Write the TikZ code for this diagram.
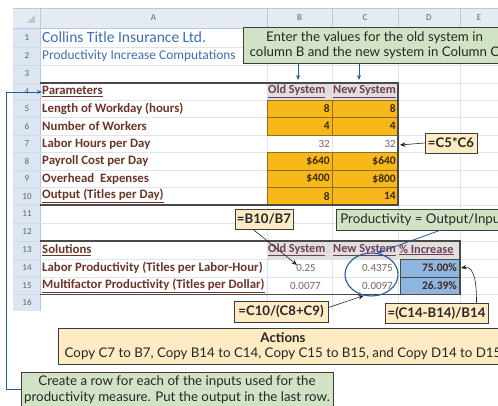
\documentclass[tikz,border=0pt]{standalone}
\usepackage{fontspec}
\setmainfont{Lato}
\newfontfamily\xlfont{Carlito}
\usetikzlibrary{arrows.meta,calc,shapes.geometric}
\definecolor{callgreen}{HTML}{D2E3C5}
\definecolor{callyellow}{HTML}{FDEBC3}
\definecolor{boxedge}{HTML}{3C3C3C}
\definecolor{arrowblue}{HTML}{1D5E9E}
\definecolor{gridc}{HTML}{DDE4ED}
\definecolor{hdrfill}{HTML}{E4EBF4}
\definecolor{rowhdr}{HTML}{DCE6F2}
\definecolor{hdredge}{HTML}{B9C8DB}
\definecolor{orangefill}{HTML}{F8B819}
\definecolor{orangeedge}{HTML}{8C6E28}
\definecolor{bluecell}{HTML}{8FB5E1}
\definecolor{labeltext}{HTML}{6A3528}
\definecolor{titleblue}{HTML}{3D6DB5}
\definecolor{thickline}{HTML}{4A4A4A}
\definecolor{valtext}{HTML}{3A2A18}
\definecolor{softval}{HTML}{7A625A}
\definecolor{headcell}{HTML}{E2DEDC}
\definecolor{headtext}{HTML}{6B3F5E}
\tikzset{
  callg/.style={draw=boxedge, fill=callgreen, line width=0.7pt, font=\fontsize{13.3}{15.5}\selectfont, align=center, inner sep=2pt, text=black!85},
  cally/.style={draw=boxedge, fill=callyellow, line width=0.7pt, font=\fontsize{13.2}{15}\selectfont\bfseries, inner sep=2pt, text=black!85},
  barrow/.style={draw=arrowblue, line width=0.8pt, -{Stealth[length=5pt,width=4pt]}},
  karrow/.style={draw=black!85, line width=0.6pt, -{Stealth[length=5.5pt,width=4.5pt]}},
  lbl/.style={anchor=west, font=\xlfont\fontsize{12.8}{14}\selectfont\bfseries, text=labeltext, inner sep=0pt},
  val/.style={anchor=east, font=\xlfont\fontsize{11.5}{12}\selectfont\bfseries, text=valtext, inner sep=0pt},
  softv/.style={anchor=east, font=\xlfont\fontsize{11}{12}\selectfont, text=softval, inner sep=0pt},
  colhdr/.style={font=\xlfont\fontsize{9}{10}\selectfont, text=gray!75!black, inner sep=0pt},
  rownum/.style={font=\xlfont\fontsize{9}{10}\selectfont, text=gray!75!black, inner sep=0pt},
  hcell/.style={font=\xlfont\fontsize{12.3}{13}\selectfont\bfseries, text=headtext, inner sep=0pt},
  ocell/.style={fill=orangefill, draw=orangeedge, line width=0.7pt},
  bcell/.style={fill=bluecell, draw=thickline, line width=0.7pt},
  thick line/.style={draw=thickline, line width=1.6pt}
}
\begin{document}
\begin{tikzpicture}[x=1pt,y=-1pt]
\useasboundingbox (0,0) rectangle (498,406);
\clip (0,0) rectangle (498,406);
% spreadsheet base
\fill[hdrfill] (13,8) rectangle (498,28);
\fill[rowhdr] (13,28) rectangle (40,311);
\draw[hdredge] (13,8) -- (498,8);
\draw[hdredge] (13,28) -- (498,28);
\draw[hdredge] (40,8) -- (40,311);
\fill[gray!45] (35,15) -- (35,23) -- (27,23) -- cycle;
\foreach \y in {47,65,83,100,117.5,135,152.5,170,187.5,205,223,241,259,277,294.5}{
  \draw[gridc] (40,\y) -- (498,\y);
  \draw[hdredge!70] (13,\y) -- (40,\y);
}
\foreach \x in {267,332,398,460}{
  \draw[gridc] (\x,28) -- (\x,311);
  \draw[hdredge] (\x,8) -- (\x,28);
}
% column letters
\node[colhdr] (ca) at (153.5,18) {A};
\node[colhdr] (cb) at (299.5,18) {B};
\node[colhdr] (cc) at (365,18) {C};
\node[colhdr] (cd) at (429,18) {D};
\node[colhdr] (ce) at (479,18) {E};
% row numbers
\foreach \n/\y in {1/37.5,2/56,3/74,4/91.5,5/108.75,6/126.25,7/143.75,8/161.25,9/178.75,10/196.25,11/214,12/232,13/250,14/268,15/285.75,16/302.75}{
  \node[rownum] (rn\n) at (27,\y) {\n};
}
% header cells
\fill[headcell] (267,83) rectangle (398,100);
\fill[headcell] (267,241) rectangle (460,259);
% orange input cells
\foreach \ya/\yb in {100/117.5,117.5/135,152.5/170,170/187.5,187.5/205}{
  \draw[ocell] (267,\ya) rectangle (332,\yb);
  \draw[ocell] (332,\ya) rectangle (398,\yb);
}
% blue result cells
\draw[bcell] (400,259) rectangle (460,277);
\draw[bcell] (400,277) rectangle (460,294.5);
% column A texts
\node[anchor=west, inner sep=0pt, font=\xlfont\fontsize{15.5}{17}\selectfont, text=titleblue] (t1) at (42,37.5) {Collins Title Insurance Ltd.};
\node[anchor=west, inner sep=0pt, font=\xlfont\fontsize{13.4}{15}\selectfont, text=titleblue] (t2) at (42,56) {Productivity Increase Computations};
\node[lbl] (a4) at (42,91.5) {\underline{Parameters}};
\node[lbl] (a5) at (42,108.75) {Length of Workday (hours)};
\node[lbl] (a6) at (42,126.25) {Number of Workers};
\node[lbl] (a7) at (42,143.75) {Labor Hours per Day};
\node[lbl] (a8) at (42,161.25) {Payroll Cost per Day};
\node[lbl] (a9) at (42,178.75) {Overhead\ \ Expenses};
\node[lbl] (a10) at (42,196.25) {\underline{Output (Titles per Day)}};
\node[lbl] (a13) at (42,250) {\underline{Solutions}};
\node[lbl] (a14) at (42,268) {Labor Productivity (Titles per Labor-Hour)};
\node[lbl] (a15) at (42,285.75) {\underline{Multifactor Productivity (Titles per Dollar)}};
% column headers inside sheet
\begin{scope}
\clip (267,83) rectangle (332,100);
\node[hcell, anchor=west] (b4) at (268,91.5) {\underline{Old System}};
\end{scope}
\begin{scope}
\clip (332,83) rectangle (397,100);
\node[hcell, anchor=west] (c4) at (333,91.5) {\underline{New System}};
\end{scope}
\begin{scope}
\clip (267,241) rectangle (332,259);
\node[hcell, anchor=west] (b13) at (268,250) {\underline{Old System}};
\end{scope}
\begin{scope}
\clip (332,241) rectangle (398,259);
\node[hcell, anchor=west] (c13) at (333,250) {\underline{New System}};
\end{scope}
\begin{scope}
\clip (398,241) rectangle (460,259);
\node[hcell, anchor=west] (d13) at (399,250) {\underline{\% Increase}};
\end{scope}
% thick section borders
\draw[thick line] (40,83) -- (398,83) -- (398,205) -- (40,205);
\draw[thick line] (40,241) -- (460,241) -- (460,294.5) -- (40,294.5);
% values
\node[val] (b5) at (330,108.75) {8};
\node[val] (c5) at (396,108.75) {8};
\node[val] (b6) at (330,126.25) {4};
\node[val] (c6) at (396,126.25) {4};
\node[softv] (b7) at (330,143.75) {32};
\node[softv] (c7) at (396,143.75) {32};
\node[val] (b8) at (330,161.25) {\$640};
\node[val] (c8) at (396,161.25) {\$640};
\node[val] (b9) at (330,178.75) {\$400};
\node[val] (c9) at (396,178.75) {\$800};
\node[val] (b10) at (330,196.25) {8};
\node[val] (c10) at (396,196.25) {14};
\node[softv] (b14) at (316,268) {0.25};
\node[softv] (c14) at (393,268) {0.4375};
\node[val] (d14) at (457,268) {75.00\%};
\node[softv] (b15) at (321,285.75) {0.0077};
\node[softv] (c15) at (393,285.75) {0.0097};
\node[val] (d15) at (457,285.75) {26.39\%};
% ellipse highlight
\node[draw=arrowblue, line width=1.1pt, ellipse, minimum width=53pt, minimum height=43pt, inner sep=0pt] (ell) at (371.5,274.5) {};
% callouts
\node[callg, minimum width=263pt, minimum height=36pt] (enter) at (374.5,45) {Enter the values for the old system in\\column B and the new system in Column C};
\node[cally, minimum width=52pt, minimum height=20pt] (f1) at (451,143) {=C5*C6};
\node[cally, minimum width=58pt, minimum height=20pt] (f2) at (264,219) {=B10/B7};
\node[callg, anchor=west, minimum height=21pt, inner xsep=4pt] (prod) at (336,219.5) {Productivity = Output/Input};
\node[cally, minimum width=94pt, minimum height=21pt] (f3) at (281,311.5) {=C10/(C8+C9)};
\node[cally, minimum width=103pt, minimum height=20pt] (f4) at (436.5,313) {=(C14-B14)/B14};
\node[cally, minimum width=450pt, minimum height=36pt, align=center, font=\fontsize{13.3}{15}\selectfont] (act) at (283,346) {\textbf{Actions}\\Copy C7 to B7, Copy B14 to C14, Copy C15 to B15, and Copy D14 to D15};
\node[callg, minimum width=312pt, minimum height=35pt] (create) at (177,389.5) {Create a row for each of the inputs used for the\\productivity measure. Put the output in the last row.};
% connector targets
\coordinate (oldtop) at (298,80);
\coordinate (newtop) at (359,80);
\coordinate (c7edge) at (400,145);
\coordinate (b14pt) at (297,265);
\coordinate (d14edge) at (461,268);
\coordinate (lcorner) at (6,92);
\coordinate (paramarrow) at (42,92);
% connectors
\draw[barrow] (enter.south -| oldtop) -- (oldtop);
\draw[barrow] (enter.south -| newtop) -- (newtop);
\draw[karrow] (f1.west) -- (c7edge);
\draw[karrow] ($(f2.south)+(-11,0)$) -- (b14pt);
\draw[barrow] ($(prod.south west)+(104,0)$) -- (ell.75);
\draw[karrow] ($(f3.east)+(0,-4)$) -- (ell.250);
\draw[karrow] ($(f4.north)+(40,0)$) to[out=90,in=10] (d14edge);
\draw[barrow] (create.west) -| (lcorner) -- (paramarrow);
\end{tikzpicture}
\end{document}
